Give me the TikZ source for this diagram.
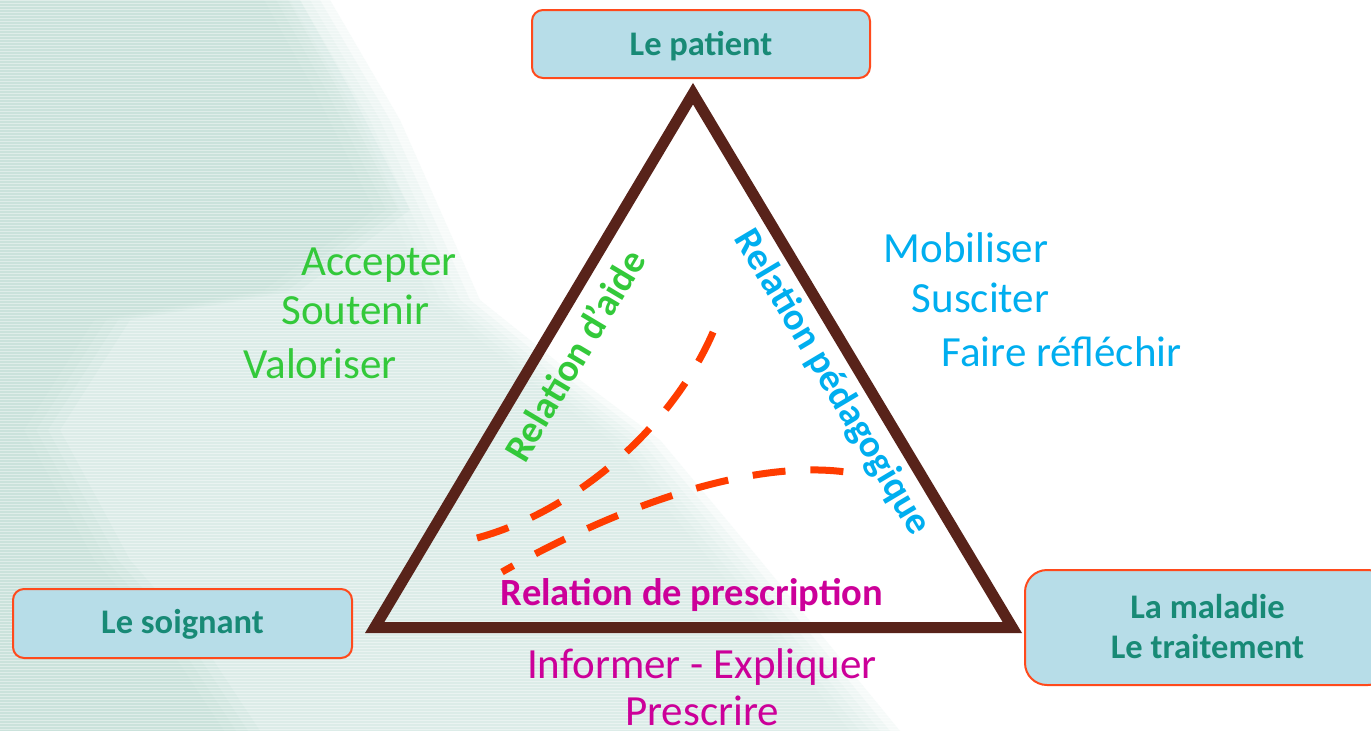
\documentclass[tikz,border=0pt]{standalone}
\usepackage{fontspec}
\setmainfont{Carlito}
\definecolor{boxfill}{HTML}{B7DDE8}
\definecolor{boxline}{HTML}{FF4A1C}
\definecolor{tealtxt}{HTML}{188A76}
\definecolor{triline}{HTML}{58231A}
\definecolor{dashred}{HTML}{FF3C00}
\definecolor{greentxt}{HTML}{33C93A}
\definecolor{bluetxt}{HTML}{00AEEF}
\definecolor{magtxt}{HTML}{CC0099}
\definecolor{bgA}{HTML}{D2E8E1}
\definecolor{bgB}{HTML}{BFDDD4}
\begin{document}
\begin{tikzpicture}[x=1pt,y=-1pt,
  box/.style={draw=boxline, line width=2pt, fill=boxfill, rounded corners=11pt,
    text=tealtxt, font=\fontsize{34.5}{40}\selectfont\bfseries, inner sep=0pt,
    text height=22pt, text depth=0pt},
  tri/.style={draw=triline, line width=11pt, line join=miter},
  dashcurve/.style={draw=dashred, line width=7pt, dash pattern=on 33pt off 25pt},
  verbg/.style={text=greentxt, font=\fontsize{43}{50}\selectfont, anchor=base, inner sep=0pt},
  verbb/.style={text=bluetxt, font=\fontsize{43}{50}\selectfont, anchor=base, inner sep=0pt},
  verbm/.style={text=magtxt, font=\fontsize{43}{50}\selectfont, anchor=base, inner sep=0pt},
  rel/.style={font=\fontsize{38.5}{44}\selectfont\bfseries, anchor=base, inner sep=0pt}]
% background
\useasboundingbox (0,0) rectangle (1371,731);
\fill[white] (0,0) rectangle (1371,731);
\foreach \s in {0,10,20,30,40,50} {
  \fill[bgA, opacity=0.2, xshift=-\s pt] (-60,0) -- (330,0) -- (400,120) -- (480,300) -- (580,380) -- (660,440) -- (760,560) -- (900,731) -- (-60,731) -- cycle;
}
\foreach \s in {0,12,24,36} {
  \fill[bgB, opacity=0.2, xshift=-\s pt] (-60,0) -- (300,0) -- (350,90) -- (410,210) -- (300,290) -- (130,320) -- (60,430) -- (130,560) -- (200,640) -- (260,731) -- (-60,731) -- cycle;
}
\foreach \yy in {0,3,...,731} {\draw[white, opacity=0.4, line width=1pt] (0,\yy) -- (1371,\yy);}
% boxes
\node[box, minimum width=338pt, minimum height=68pt] (patient) at (701,44) {Le patient};
\node[box, minimum width=339pt, minimum height=69pt, text height=20pt] (soignant) at (182.5,623.5) {Le soignant};
\node[box, minimum width=365pt, minimum height=115pt, rounded corners=22pt, align=center, text height=61.6pt, text depth=0pt] (maladie) at (1207.5,627.5) {La maladie\\Le traitement};
% triangle
\coordinate (A) at (693,93.7);
\coordinate (B) at (374.7,627.5);
\coordinate (C) at (1012.3,627.5);
\draw[tri] (A) -- (B) -- (C) -- cycle;
% dashed curves
\coordinate (d1s) at (477,538);
\coordinate (d1e) at (718,320);
\coordinate (d2s) at (502,572);
\coordinate (d2e) at (858,474);
\draw[dashcurve] (d1s) .. controls (580,510) and (680,420) .. (d1e);
\draw[dashcurve, dash phase=20pt] (d2s) .. controls (620,505) and (760,455) .. (d2e);
% edge labels
\node[rel, text=greentxt, rotate=59.2] (aide) at (586,362) {Relation d’aide};
\node[rel, text=bluetxt, rotate=-59.2] (peda) at (823,388) {Relation pédagogique};
\node[rel, text=magtxt] (presc) at (692,605) {Relation de prescription};
% verbs
\node[verbg] (accepter) at (379,275) {Accepter};
\node[verbg] (soutenir) at (355.5,324) {Soutenir};
\node[verbg] (valoriser) at (320,378) {Valoriser};
\node[verbb] (mobiliser) at (966,262.7) {Mobiliser};
\node[verbb] (susciter) at (980.5,312.7) {Susciter};
\node[verbb] (faire) at (1061.5,366.7) {Faire réfléchir};
\node[verbm] (informer) at (702,678) {Informer - Expliquer};
\node[verbm] (prescrire) at (702,725) {Prescrire};
\end{tikzpicture}
\end{document}
